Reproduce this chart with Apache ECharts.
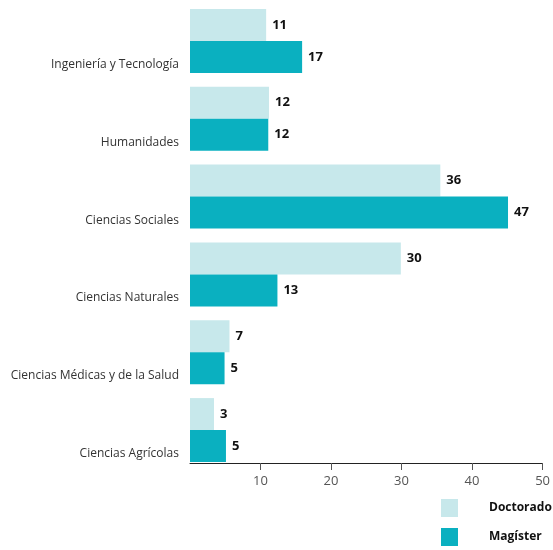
<!DOCTYPE html>
<html>
<head>
<meta charset="utf-8">
<script src="https://cdn.jsdelivr.net/npm/echarts@6/dist/echarts.min.js"></script>
<style>html,body{margin:0;padding:0;background:#fff}#c{width:553px;height:550px}</style>
</head>
<body>
<div id="c"></div>
<script>
var categories = ['Ingeniería y Tecnología', 'Humanidades', 'Ciencias Sociales', 'Ciencias Naturales', 'Ciencias Médicas y de la Salud', 'Ciencias Agrícolas'];
var doctoradoValues = [10.8, 11.2, 35.5, 29.9, 5.6, 3.4];
var magisterValues = [15.9, 11.1, 45.1, 12.4, 4.9, 5.1];
var doctoradoLabels = ['11', '12', '36', '30', '7', '3'];
var magisterLabels = ['17', '12', '47', '13', '5', '5'];
var xTicks = [0, 10, 20, 30, 40, 50];

var chart = echarts.init(document.getElementById('c'));
var font = '"Open Sans", "DejaVu Sans", sans-serif';
chart.setOption({
  animation: false,
  textStyle: { fontFamily: font },
  grid: { left: 190, right: 10, top: 2, height: 467 },
  legend: {
    orient: 'vertical', left: 441, top: 499, padding: 0,
    itemWidth: 17, itemHeight: 18, itemGap: 11,
    icon: 'rect',
    textStyle: { fontFamily: font, fontWeight: 'bold', fontSize: 12, color: '#111', padding: [0, 0, 0, 26] },
    data: ['Doctorado', 'Magíster']
  },
  xAxis: {
    type: 'value', min: xTicks[0], max: xTicks[xTicks.length - 1], interval: 10,
    offset: -6,
    splitLine: { show: false },
    axisLine: { show: true, lineStyle: { color: '#222', width: 1 } },
    axisTick: { show: true, length: 7, lineStyle: { color: '#555' } },
    axisLabel: { showMinLabel: false, color: '#555', fontSize: 13, margin: 12, fontFamily: font }
  },
  yAxis: {
    type: 'category', data: categories, inverse: true,
    axisLine: { show: false }, axisTick: { show: false },
    axisLabel: { color: '#333', fontSize: 12, margin: 11, verticalAlign: 'top', lineHeight: 47, fontFamily: font }
  },
  series: [
    {
      name: 'Doctorado', type: 'bar', data: doctoradoValues, barWidth: 32, barGap: '0%',
      itemStyle: { color: '#c7e8eb' },
      label: { show: true, position: 'right', distance: 6, color: '#111', fontWeight: 'bold', fontSize: 13, fontFamily: font,
        formatter: function (p) { return doctoradoLabels[p.dataIndex]; } }
    },
    {
      name: 'Magíster', type: 'bar', data: magisterValues, barWidth: 32, barGap: '0%',
      itemStyle: { color: '#0ab0c0' },
      label: { show: true, position: 'right', distance: 6, color: '#111', fontWeight: 'bold', fontSize: 13, fontFamily: font,
        formatter: function (p) { return magisterLabels[p.dataIndex]; } }
    }
  ]
});
</script>
</body>
</html>
